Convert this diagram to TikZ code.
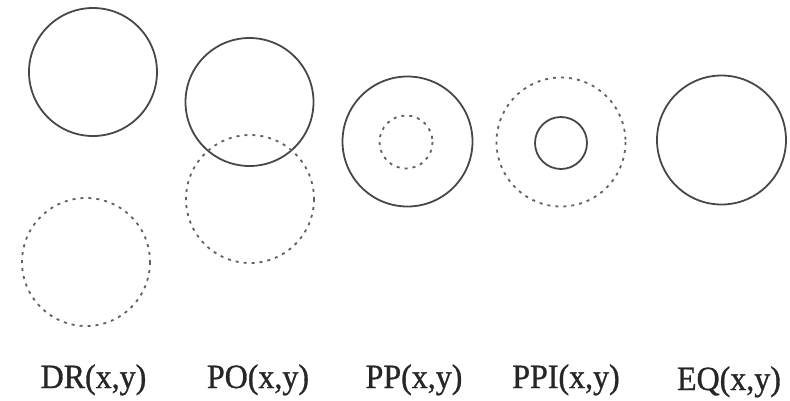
\documentclass[tikz,border=0pt]{standalone}
\usepackage{fontspec}
\setmainfont{Liberation Serif}
\newfontfamily\lblfont[FakeStretch=0.94,AutoFakeBold=0.9]{Liberation Serif}
\begin{document}
\begin{tikzpicture}[x=1pt,y=-1pt,
  solidc/.style={draw=black!72,line width=1.8pt},
  dotc/.style={draw=black!62,line width=1.8pt,dash pattern=on 3pt off 5pt},
  lbl/.style={anchor=base,inner sep=0pt,font=\lblfont\bfseries\fontsize{34}{34}\selectfont,text=black!85}]
\useasboundingbox (0,0) rectangle (790,400);
% DR
\draw[solidc] (93,72) circle (64);
\draw[dotc] (86,262) circle (64);
% PO
\draw[solidc] (249.5,102) circle (64);
\draw[dotc] (250,199) circle (64);
% PP
\draw[solidc] (407.5,141.5) circle (65);
\draw[dotc] (406,142) circle (26.5);
% PPI
\draw[dotc] (561,142) circle (64.5);
\draw[solidc] (561,143) circle (26);
% EQ
\draw[solidc] (721.5,140) circle (64.5);
% labels
\node[lbl] (ldr) at (93.5,388) {DR(x,y)};
\node[lbl] (lpo) at (258,388) {PO(x,y)};
\node[lbl] (lpp) at (414,388) {PP(x,y)};
\node[lbl] (lppi) at (566,388) {PPI(x,y)};
\node[lbl] (leq) at (729,390) {EQ(x,y)};
\end{tikzpicture}
\end{document}
